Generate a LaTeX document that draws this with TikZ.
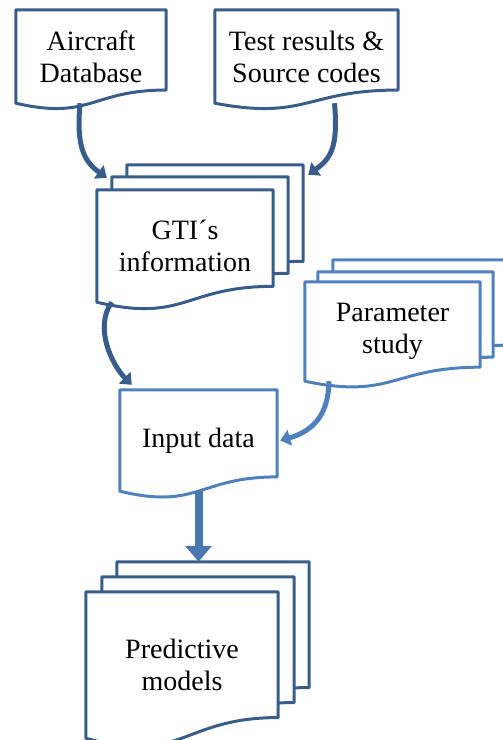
\documentclass[tikz,border=0pt]{standalone}
\usepackage{fontspec}
\setmainfont{Liberation Serif}
\usetikzlibrary{calc,arrows.meta}
\definecolor{docdark}{RGB}{56,93,138}
\definecolor{doclight}{RGB}{79,129,189}
\pgfdeclarelayer{background}
\pgfsetlayers{background,main}
\tikzset{
  docline/.style={line width=3pt,fill=white,line join=round},
  doctext/.style={align=center,font=\fontsize{28}{32}\selectfont,inner sep=0pt},
  bendarrow/.style={line width=5pt,-{Triangle[width=16pt,length=10pt]},docdark},
  downarrow/.style={line width=8pt,-{Triangle[width=26pt,length=16pt]},doclight!75!docdark}
}
% page shape with a wavy bottom, drawn round a node (#2 = offset, #3 = colour)
\newcommand\docshape[3]{%
  \path[docline,draw=#3] ($(#1.north west)+#2$) -- ($(#1.north east)+#2$)
    -- ($(#1.north east)!0.859!(#1.south east)+#2$)
    .. controls ($(#1.north)!0.859!(#1.south)+#2$) and ($(#1.north)!1.186!(#1.south)+#2$)
    .. ($(#1.south west)+#2$) -- cycle;}
\begin{document}
\begin{tikzpicture}[x=1pt,y=-1pt]
\useasboundingbox (0,0) rectangle (503,740);
%sources
\node[doctext,minimum width=150pt,minimum height=93pt] (aircraft) at (91,56.5) {Aircraft\\Database};
\node[doctext,minimum width=183pt,minimum height=93pt] (test) at (306.5,56.5) {Test results \&\\Source codes};
%middle
\node[doctext,minimum width=176pt,minimum height=112pt] (gti) at (185,246) {GTI´s\\information};
\node[doctext,minimum width=175pt,minimum height=99pt] (param) at (392.5,331.5) {Parameter\\study};
\node[doctext,minimum width=157pt,minimum height=101pt] (input) at (198.5,440.5) {Input data};
%result
\node[doctext,minimum width=192pt,minimum height=146pt] (pred) at (182,665) {Predictive\\models};
\coordinate (predback) at ($(pred.north)+(31,-30)$);
\begin{pgfonlayer}{background}
\docshape{aircraft}{(0,0)}{docdark}
\docshape{test}{(0,0)}{docdark}
\docshape{gti}{(30,-25)}{docdark}
\docshape{gti}{(15,-13)}{docdark}
\docshape{gti}{(0,0)}{docdark}
\docshape{param}{(28,-22)}{doclight}
\docshape{param}{(13,-10)}{doclight}
\docshape{param}{(0,0)}{doclight}
\docshape{input}{(0,0)}{doclight}
\docshape{pred}{(31,-30)}{docdark}
\docshape{pred}{(16,-15)}{docdark}
\docshape{pred}{(0,0)}{docdark}
\end{pgfonlayer}
%arrows
\draw[bendarrow] ([xshift=-11pt]aircraft.south) .. controls +(-4,45) and +(-22,-16) .. ([shift={(10,-12)}]gti.north west);
\draw[bendarrow] ([xshift=28pt]test.south) .. controls +(4,45) and +(22,-16) .. ([shift={(35,-15)}]gti.north east);
\draw[bendarrow] ([xshift=15pt]gti.south west) .. controls +(-18,25) and +(-20,-20) .. ([shift={(12,-5)}]input.north west);
\draw[bendarrow,doclight] ([xshift=24pt]param.south west) .. controls +(0,38) and +(28,-8) .. ([xshift=3pt]input.east);
\draw[downarrow] (input.south) -- (input.south |- predback);
\end{tikzpicture}
\end{document}
